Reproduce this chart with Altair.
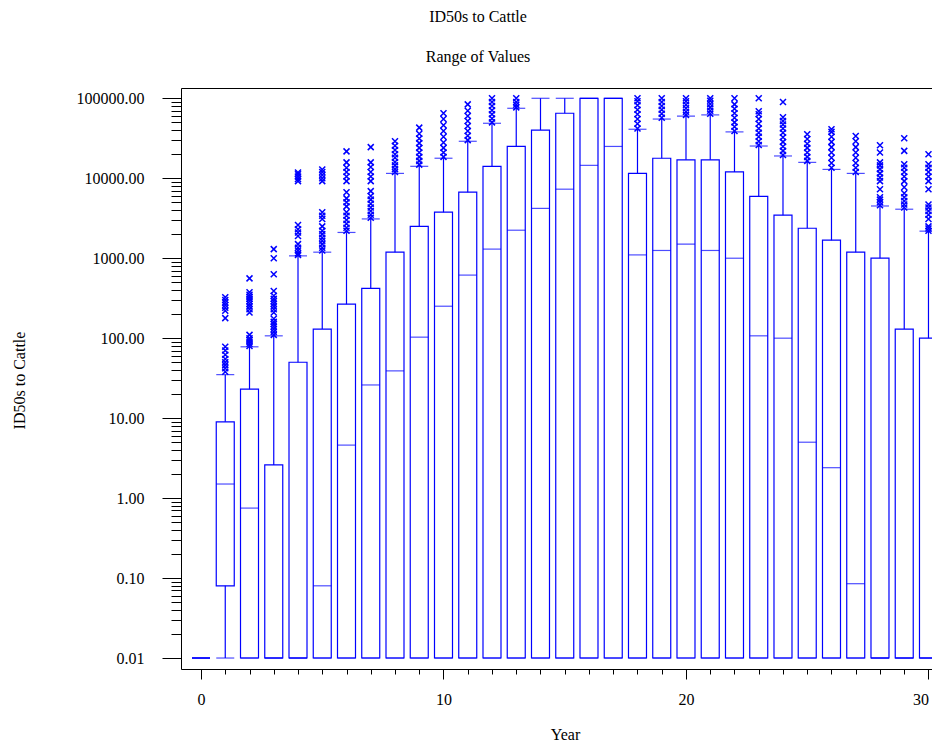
import altair as alt
import pandas as pd

# ---------------- data ----------------
years = list(range(31))
whisker_low = [0.01] * 31
q1 = [0.01, 0.08, 0.01, 0.01, 0.01, 0.01, 0.01, 0.01, 0.01, 0.01, 0.01,
      0.01, 0.01, 0.01, 0.01, 0.01, 0.01, 0.01, 0.01, 0.01, 0.01,
      0.01, 0.01, 0.01, 0.01, 0.01, 0.01, 0.01, 0.01, 0.01, 0.01]
median = [0.01, 1.5, 0.75, 0.01, 0.01, 0.08, 4.6, 26, 39, 103, 251,
          615, 1300, 2240, 4200, 7300, 14500, 25000, 1100, 1250, 1500,
          1250, 1000, 107, 100, 5, 2.4, 0.085, 0.01, 0.01, 0.01]
q3 = [0.01, 9, 23, 2.6, 50, 130, 266, 420, 1190, 2500, 3760,
      6700, 14100, 25000, 40000, 65000, 100000, 100000, 11500, 17800, 17000,
      17000, 12000, 5950, 3450, 2370, 1680, 1190, 1000, 130, 100]
whisker_high = [0.01, 35, 78, 107, 1070, 1190, 2100, 3100, 11500, 14100, 17800,
                29000, 48700, 75000, 100000, 100000, 100000, 100000, 41000, 55000, 60000,
                62000, 38000, 25300, 19000, 15800, 12900, 11500, 4500, 4100, 2180]

outliers = {
    1: [38, 42, 46, 50, 55, 62, 70, 78, 178, 220, 240, 260, 280, 300, 325],
    2: [80, 85, 90, 95, 100, 110, 210, 230, 250, 270, 290, 310, 330, 350, 375, 560],
    3: [110, 120, 130, 140, 150, 160, 175, 210, 230, 250, 270, 290, 310, 340, 390, 630, 1000, 1300],
    4: [1100, 1150, 1250, 1350, 1500, 1900, 2100, 2300, 2600, 9200, 9800, 10500, 11200, 11800],
    5: [1250, 1350, 1500, 1650, 1800, 2000, 2200, 2500, 3100, 3400, 3760, 9200, 10000, 11000, 12000, 12900],
    6: [2200, 2400, 2700, 3000, 3400, 3760, 4450, 5000, 5600, 6700, 9200, 10500, 12000, 13500, 15800, 21700],
    7: [3200, 3500, 3900, 4300, 4800, 5400, 6000, 6900, 9200, 10500, 12000, 13800, 15800, 24500],
    8: [12000, 13000, 14500, 16000, 18000, 20000, 22500, 25500, 29000],
    9: [14800, 16500, 18500, 21000, 24000, 27500, 31500, 36000, 43000],
    10: [18500, 21000, 24000, 28000, 33000, 39000, 46000, 55000, 65000],
    11: [30000, 34000, 39000, 45000, 52000, 60000, 70000, 84000],
    12: [50000, 56000, 63000, 71000, 80000, 90000, 100000],
    13: [77000, 83000, 90000, 100000],
    18: [42000, 48000, 55000, 63000, 72000, 82000, 92000, 100000],
    19: [57000, 64000, 72000, 80000, 90000, 100000],
    20: [62000, 68000, 75000, 83000, 92000, 100000],
    21: [64000, 70000, 77000, 85000, 93000, 100000],
    22: [39000, 44000, 50000, 57000, 65000, 74000, 84000, 100000],
    23: [26000, 29000, 33000, 37000, 42000, 48000, 55000, 63000, 69000, 100000],
    24: [19500, 22000, 25000, 28500, 32500, 37000, 42000, 47000, 52000, 58000, 90000],
    25: [16500, 18500, 21000, 24000, 27000, 31000, 35500],
    26: [13500, 15500, 18000, 21000, 24500, 28500, 33000, 38000, 41000],
    27: [12000, 13500, 15500, 18000, 21000, 24500, 29000, 33700],
    28: [4600, 5000, 5400, 5800, 7300, 9200, 10200, 11500, 13000, 14500, 15800, 21000, 25800],
    29: [4300, 4700, 5200, 5800, 6500, 7700, 9200, 10500, 12000, 13500, 15000, 22000, 31600],
    30: [2200, 2350, 2500, 3100, 3500, 3900, 4300, 4700, 7300, 9200, 10500, 12000, 13500, 15000, 20000],
}

x_major_ticks = [0, 10, 20, 30]
y_major_ticks = [0.01, 0.1, 1, 10, 100, 1000, 10000, 100000]
y_minor_ticks = [m * d for d in [0.01, 0.1, 1, 10, 100, 1000, 10000] for m in range(2, 10)]

# ---------------- tables ----------------
box_df = pd.DataFrame({
    "year": years, "low": whisker_low, "q1": q1, "median": median,
    "q3": q3, "high": whisker_high,
})
out_df = pd.DataFrame(
    [(y, v) for y, vals in outliers.items() for v in vals],
    columns=["year", "value"],
)

# ---------------- styling ----------------
FONT = "Liberation Serif"
BLUE = "#0000ff"
W, H = 751, 581

xs = alt.Scale(domain=[-0.825, 30.145], nice=False, zero=False, padding=0)
ys = alt.Scale(type="log", domain=[0.00729, 134500], nice=False, padding=0)

x_major_axis = alt.Axis(
    orient="bottom", values=x_major_ticks, format="d", grid=False,
    tickSize=10, tickColor="black", tickWidth=1,
    domainColor="black", domainWidth=1, labelFlush=10,
    labelFont=FONT, labelFontSize=16, labelColor="black", labelPadding=12,
    titleFont=FONT, titleFontSize=16, titleFontWeight="normal", titleColor="black",
    titleX=384, titleY=70, titleBaseline="alphabetic",
)
x_minor_axis = alt.Axis(
    orient="bottom", values=years, grid=False, labels=False, domain=False,
    tickSize=5, tickColor="black", tickWidth=1,
)
x_top_axis = alt.Axis(
    orient="top", grid=False, labels=False, ticks=False, domain=True,
    domainColor="black", domainWidth=1,
)
y_major_axis = alt.Axis(
    orient="left", values=y_major_ticks, format=".2f", grid=False,
    labelOverlap=False, tickSize=19, tickColor="black", tickWidth=1,
    domainColor="black", domainWidth=1,
    labelFont=FONT, labelFontSize=16, labelColor="black", labelPadding=18,
    titleFont=FONT, titleFontSize=16, titleFontWeight="normal", titleColor="black",
    titleAngle=270, titleX=-156.5, titleY=292, titleBaseline="alphabetic",
)
y_minor_axis = alt.Axis(
    orient="left", values=y_minor_ticks, grid=False, labels=False, domain=False,
    tickSize=10, tickColor="black", tickWidth=1,
)

base = alt.Chart(box_df)

whiskers = base.mark_rule(color=BLUE, strokeWidth=1.2).encode(
    x=alt.X("year:Q", scale=xs, axis=x_major_axis, title="Year"),
    y=alt.Y("low:Q", scale=ys, axis=y_major_axis, title="ID50s to Cattle"),
    y2="high:Q",
)
boxes = base.mark_bar(size=18, fill="white", stroke=BLUE, strokeWidth=1.2).encode(
    x=alt.X("year:Q", scale=xs, axis=x_minor_axis, title=None),
    y=alt.Y("q1:Q", scale=ys, axis=y_minor_axis, title=None),
    y2="q3:Q",
)
medians = base.mark_tick(orient="horizontal", size=18, thickness=1.2, color=BLUE).encode(
    x=alt.X("year:Q", scale=xs, axis=x_top_axis, title=None),
    y=alt.Y("median:Q", scale=ys, axis=None),
)
caps_high = base.mark_tick(orient="horizontal", size=18, thickness=1.2, color=BLUE).encode(
    x=alt.X("year:Q", scale=xs, axis=None),
    y=alt.Y("high:Q", scale=ys, axis=None),
)
caps_low = base.mark_tick(orient="horizontal", size=18, thickness=1.2, color=BLUE).encode(
    x=alt.X("year:Q", scale=xs, axis=None),
    y=alt.Y("low:Q", scale=ys, axis=None),
)
points = alt.Chart(out_df).mark_point(
    shape="M-1,-1L1,1M-1,1L1,-1", size=36, filled=False,
    stroke=BLUE, strokeWidth=1.5, opacity=1,
).encode(
    x=alt.X("year:Q", scale=xs, axis=None),
    y=alt.Y("value:Q", scale=ys, axis=None),
)

chart = alt.layer(
    whiskers, boxes, medians, caps_high, caps_low, points
).resolve_axis(
    x="independent", y="independent"
).properties(
    width=W, height=H,
    autosize=alt.AutoSizeParams(type="none"),
    padding={"left": 173, "top": 80, "right": 0, "bottom": 72},
    title=alt.Title(
        text="ID50s to Cattle", subtitle="Range of Values",
        font=FONT, fontSize=16, fontWeight="normal", color="black",
        subtitleFont=FONT, subtitleFontSize=16, subtitleColor="black",
        subtitlePadding=24, offset=23, anchor="middle", frame="group", dx=-78.5,
    ),
).configure_view(stroke=None).configure(background="white")

chart.save("out.html", embed_options={"renderer": "svg", "actions": False})
